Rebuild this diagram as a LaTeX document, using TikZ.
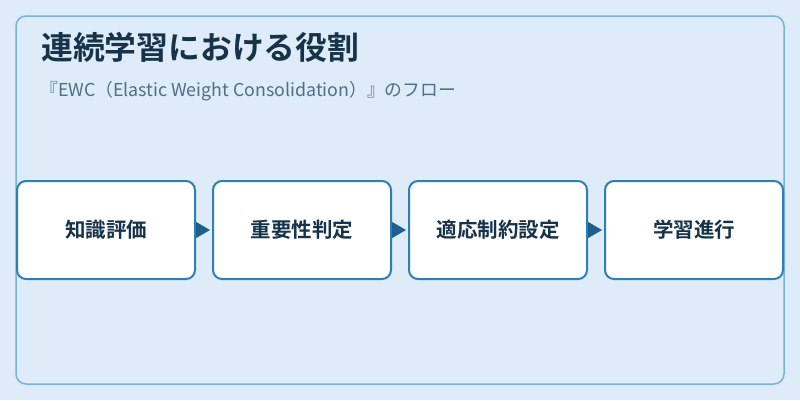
\documentclass[tikz,border=0pt]{standalone}
\usepackage{fontspec}
\setmainfont{Noto Sans CJK JP}[BoldFont={Noto Sans CJK JP Bold}]
\usetikzlibrary{arrows.meta}
\definecolor{bgblue}{HTML}{DDECF8}
\definecolor{frameblue}{HTML}{7DB2D8}
\definecolor{boxblue}{HTML}{2E7FB8}
\definecolor{arrowblue}{HTML}{1F5F8F}
\definecolor{titlenavy}{HTML}{17334A}
\definecolor{subgray}{HTML}{4F6E88}

\begin{document}
\begin{tikzpicture}[x=1pt,y=-1pt,
    step box/.style={draw=boxblue,line width=2pt,fill=white,rounded corners=9pt,minimum width=178pt,minimum height=98pt,inner sep=0pt,font=\fontsize{20.5}{24}\selectfont\bfseries,text=titlenavy},
    flow/.style={arrowblue,line width=1pt,shorten <=2pt,shorten >=2pt,-{Triangle[length=14pt,width=16pt]}}]
    \def\w{196};
    \def\y{230};
    \fill[bgblue] (0,0) rectangle (800,400);
    \useasboundingbox (0,0) rectangle (800,400);
    \draw[frameblue,line width=1.5pt,rounded corners=10pt] (16,16) rectangle (784,384);
    \node[anchor=base west,inner sep=0pt,text=titlenavy,font=\fontsize{31.8}{38}\selectfont\bfseries] at (41,59) (title) {連続学習における役割};
    \node[anchor=base west,inner sep=0pt,text=subgray,font=\fontsize{17.8}{21}\selectfont] at (40,96.5) (subtitle) {『EWC（Elastic Weight Consolidation）』のフロー};

    \node[step box] at (106,\y) (eval) {知識評価};
    \node[step box] at (106+\w,\y) (importance) {重要性判定};
    \node[step box] at (106+2*\w,\y) (constraint) {適応制約設定};
    \node[step box] at (106+3*\w,\y) (learning) {学習進行};
    \draw[flow] (eval) -- (importance);
    \draw[flow] (importance) -- (constraint);
    \draw[flow] (constraint) -- (learning);
\end{tikzpicture}
\end{document}
